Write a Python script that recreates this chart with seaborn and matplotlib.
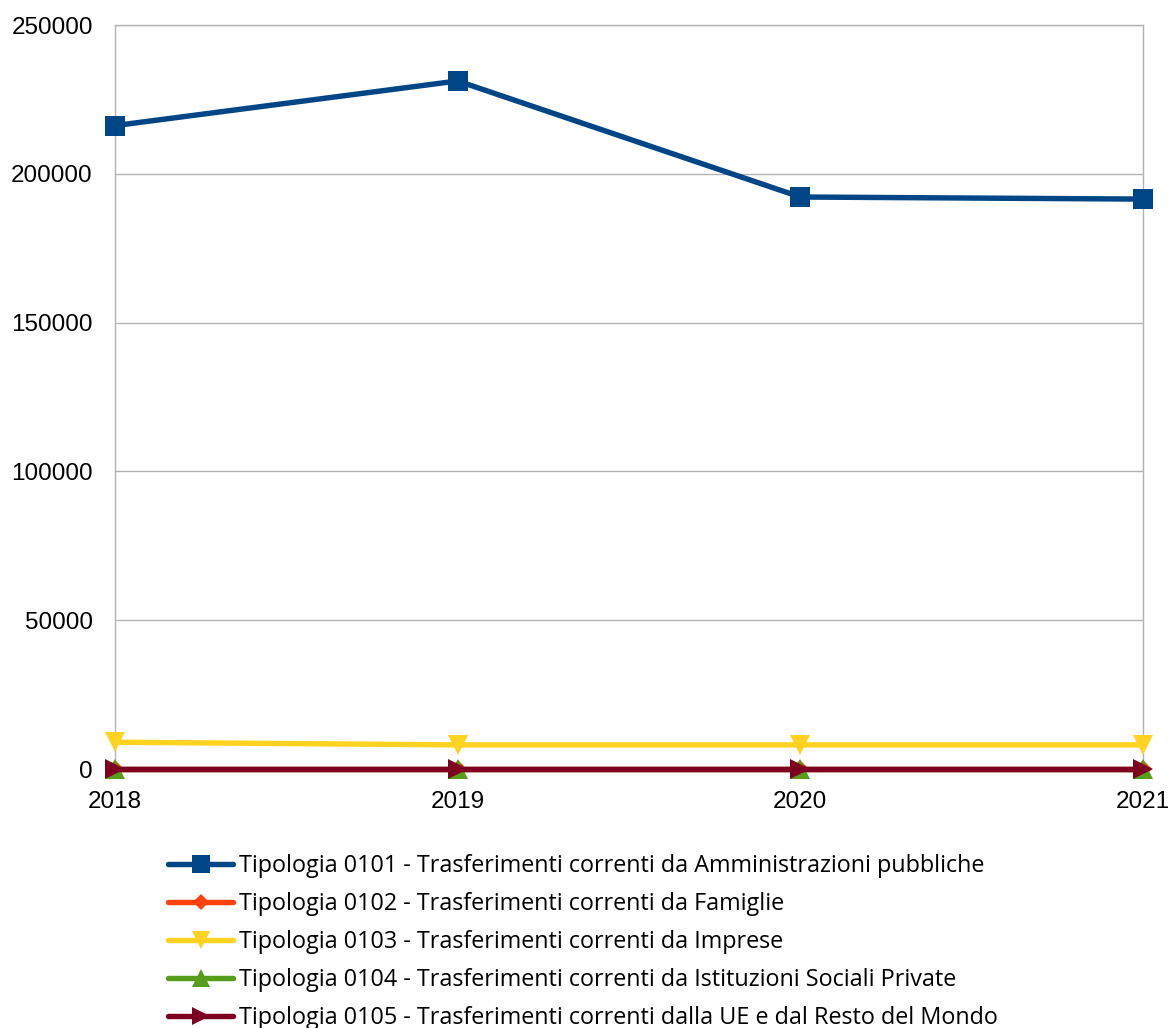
"""
Trasferimenti correnti per tipologia, 2018-2021.
Outputs: out.png
"""
import matplotlib
matplotlib.use("Agg")
import matplotlib.pyplot as plt
import pandas as pd
import seaborn as sns

# ---------------------------------------------------------------------------
# Data
# ---------------------------------------------------------------------------

YEARS = [2018, 2019, 2020, 2021]

SERIES_LABELS = [
    "Tipologia 0101 - Trasferimenti correnti da Amministrazioni pubbliche",
    "Tipologia 0102 - Trasferimenti correnti da Famiglie",
    "Tipologia 0103 - Trasferimenti correnti da Imprese",
    "Tipologia 0104 - Trasferimenti correnti da Istituzioni Sociali Private",
    "Tipologia 0105 - Trasferimenti correnti dalla UE e dal Resto del Mondo",
]

T0101 = [216200, 231200, 192200, 191500]
T0102 = [0, 0, 0, 0]
T0103 = [9000, 8100, 8100, 8100]
T0104 = [0, 0, 0, 0]
T0105 = [0, 0, 0, 0]

VALUES = [T0101, T0102, T0103, T0104, T0105]

COLORS = ["#004586", "#ff420e", "#ffd320", "#579d1c", "#7e0021"]
MARKERS = ["s", "D", "v", "^", ">"]
MSIZES = [14, 9, 14, 14, 14]

# ---------------------------------------------------------------------------
# Plot
# ---------------------------------------------------------------------------

sns.set_style("white")
plt.rcParams["font.family"] = ["Liberation Sans", "DejaVu Sans"]
plt.rcParams["text.color"] = "black"
plt.rcParams["xtick.color"] = "black"
plt.rcParams["ytick.color"] = "black"

df = pd.concat(
    [pd.DataFrame({"year": YEARS, "value": v, "series": lab})
     for lab, v in zip(SERIES_LABELS, VALUES)],
    ignore_index=True,
)

fig = plt.figure(figsize=(11.76, 10.28), dpi=100)
ax = fig.add_axes([115 / 1176, 1 - 769 / 1028, (1143 - 115) / 1176, (769 - 25) / 1028])

for lab, color, marker, ms in zip(SERIES_LABELS, COLORS, MARKERS, MSIZES):
    sns.lineplot(
        data=df[df["series"] == lab], x="year", y="value",
        ax=ax, color=color, linewidth=3.9,
        marker=marker, markersize=ms, markeredgewidth=0,
        label=lab, clip_on=False, zorder=3,
    )

ax.set_xlim(2018, 2021)
ax.set_ylim(0, 250000)
ax.set_xticks(YEARS)
ax.set_xticklabels([str(y) for y in YEARS])
ax.set_yticks(range(0, 250001, 50000))
ax.set_xlabel("")
ax.set_ylabel("")

ax.grid(axis="y", color="#b3b3b3", linewidth=1)
ax.set_axisbelow(True)
for side in ("left", "right", "top", "bottom"):
    ax.spines[side].set_visible(True)
    ax.spines[side].set_color("#b3b3b3")
    ax.spines[side].set_linewidth(1)

ax.tick_params(axis="y", length=8, color="#b3b3b3", labelcolor="black", labelsize=17.5, pad=8)
ax.tick_params(axis="x", length=4, color="#b3b3b3", labelcolor="black", labelsize=17.5, pad=12)

ax.legend(
    loc="upper left", bbox_to_anchor=(168 / 1176, 1 - 854 / 1028),
    bbox_transform=fig.transFigure, frameon=False,
    prop={"family": ["Open Sans", "DejaVu Sans"], "size": 16.8},
    handlelength=2.8, handletextpad=0.25, labelspacing=0.6,
    markerscale=0.9, borderaxespad=0, borderpad=0,
)

fig.savefig("out.png", dpi=100)
